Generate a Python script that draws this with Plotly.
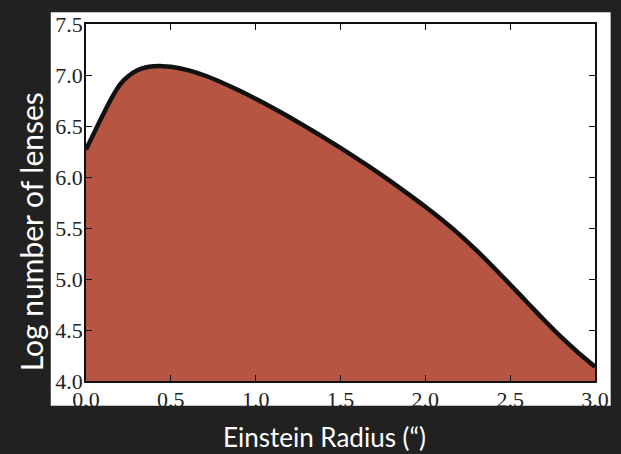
import plotly.graph_objects as go

# Data
radius = [0.0, 0.05, 0.1, 0.15, 0.2, 0.25, 0.3, 0.35, 0.4, 0.45, 0.5, 0.6, 0.7, 0.8, 0.9,
          1.0, 1.1, 1.2, 1.3, 1.4, 1.5, 1.6, 1.7, 1.8, 1.9, 2.0, 2.1, 2.2, 2.3, 2.4,
          2.5, 2.6, 2.7, 2.8, 2.9, 3.0]
log_lenses = [6.27, 6.44, 6.61, 6.77, 6.905, 6.99, 7.045, 7.073, 7.085, 7.087, 7.08, 7.048, 6.995,
              6.927, 6.850, 6.766, 6.678, 6.585, 6.489, 6.389, 6.285, 6.178, 6.068, 5.953, 5.832,
              5.708, 5.578, 5.437, 5.283, 5.118, 4.946, 4.772, 4.598, 4.432, 4.280, 4.140]
x_ticks = [0.0, 0.5, 1.0, 1.5, 2.0, 2.5, 3.0]
y_ticks = [4.0, 4.5, 5.0, 5.5, 6.0, 6.5, 7.0, 7.5]
x_title = "Einstein Radius (\u201c)"
y_title = "Log number of lenses"

W, H = 621, 454
L, R, T, B = 86, 15, 19, 73
pw, ph = W - L - R, H - T - B

def px(x):
    return (x - L) / pw

def py(y):
    return (H - B - y) / ph

fig = go.Figure()
fig.add_trace(go.Scatter(
    x=radius, y=log_lenses, mode="lines",
    line=dict(color="#111111", width=4.5, shape="spline", smoothing=0.8),
    fill="tozeroy", fillcolor="#b55542", hoverinfo="skip", showlegend=False,
))

tickfont = dict(family="Liberation Serif", size=22, color="#222222")
axis_common = dict(
    showgrid=False, zeroline=False, showline=True, linecolor="#111111", linewidth=1.5,
    mirror="ticks", ticks="inside", ticklen=6, tickwidth=1.2, tickcolor="#111111",
    tickfont=tickfont,
)
fig.update_xaxes(range=[0, 3], tickvals=x_ticks, ticktext=[f"{v:.1f}" for v in x_ticks],
                 ticklabelstandoff=-2, **axis_common)
fig.update_yaxes(range=[4, 7.5], tickvals=y_ticks, ticktext=[f"{v:.1f}" for v in y_ticks],
                 ticklabelstandoff=-3, **axis_common)

fig.add_shape(type="rect", xref="paper", yref="paper", x0=px(50), x1=px(622), y0=py(406), y1=py(7),
              fillcolor="white", line=dict(width=0), layer="below")

fig.add_annotation(text=y_title, xref="paper", yref="paper", x=px(30), y=py(230), textangle=-90,
                   showarrow=False, font=dict(family="Lato", size=30, color="#ffffff"),
                   xanchor="center", yanchor="middle")
fig.add_annotation(text=x_title, xref="paper", yref="paper", x=px(330), y=py(438),
                   showarrow=False, font=dict(family="Lato", size=26, color="#ffffff"),
                   xanchor="center", yanchor="middle")

fig.update_layout(
    width=W, height=H, margin=dict(l=L, r=R, t=T, b=B),
    paper_bgcolor="#212121", plot_bgcolor="white",
)
fig.write_html("out.html")
